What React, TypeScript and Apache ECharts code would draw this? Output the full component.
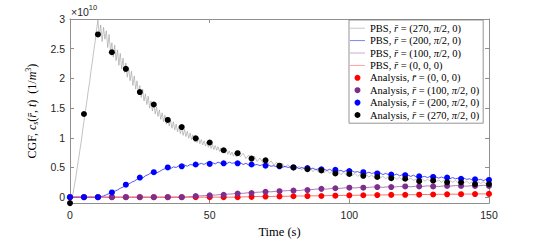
import React, { useEffect, useRef } from "react";
import * as echarts from "echarts";

// PBS r=(270,π/2,0): 0.5 s sampling from 0 to 60 s
const pbs270Early = [
  0, 0.01, 0.04, 0.18, 0.31, 0.47, 0.62, 0.78, 0.93, 1.11,
  1.28, 1.45, 1.60, 1.78, 1.93, 2.12, 2.28, 2.46, 2.62, 2.82,
  2.98, 2.70, 2.90, 2.62, 2.86, 2.66, 2.80, 2.52, 2.74, 2.46,
  2.60, 2.36, 2.56, 2.30, 2.48, 2.22, 2.42, 2.16, 2.34, 2.10,
  2.26, 2.02, 2.18, 1.96, 2.12, 1.88, 2.04, 1.82, 1.96, 1.74,
  1.88, 1.68, 1.82, 1.62, 1.74, 1.56, 1.70, 1.50, 1.62, 1.45,
  1.58, 1.40, 1.52, 1.36, 1.47, 1.31, 1.42, 1.27, 1.38, 1.23,
  1.34, 1.20, 1.30, 1.16, 1.27, 1.13, 1.23, 1.10, 1.20, 1.07,
  1.17, 1.04, 1.14, 1.02, 1.11, 0.99, 1.08, 0.97, 1.05, 0.94,
  1.02, 0.92, 1.00, 0.90, 0.97, 0.88, 0.95, 0.86, 0.93, 0.84,
  0.91, 0.82, 0.89, 0.80, 0.87, 0.79, 0.85, 0.77, 0.83, 0.75,
  0.81, 0.74, 0.80, 0.72, 0.78, 0.71, 0.76, 0.69, 0.75, 0.68,
  0.73,
];
// PBS r=(270,π/2,0): 1 s sampling from 61 to 150 s
const pbs270Late = [
  0.68, 0.74, 0.65, 0.71, 0.63, 0.69, 0.60, 0.66, 0.58,
  0.64, 0.56, 0.61, 0.54, 0.59, 0.52, 0.57, 0.50, 0.55, 0.49,
  0.54, 0.47, 0.52, 0.46, 0.51, 0.45, 0.49, 0.43, 0.48, 0.42,
  0.47, 0.41, 0.45, 0.40, 0.44, 0.39, 0.43, 0.38, 0.42, 0.37,
  0.41, 0.36, 0.40, 0.35, 0.39, 0.34, 0.38, 0.34, 0.37, 0.33,
  0.36, 0.32, 0.35, 0.31, 0.35, 0.31, 0.34, 0.30, 0.33, 0.29,
  0.33, 0.29, 0.32, 0.28, 0.31, 0.27, 0.31, 0.27, 0.30, 0.27,
  0.30, 0.26, 0.29, 0.25, 0.29, 0.25, 0.28, 0.25, 0.28, 0.24,
  0.27, 0.24, 0.27, 0.23, 0.26, 0.23, 0.26, 0.23, 0.26, 0.22,
  0.25,
];
// PBS r=(200,π/2,0): 1 s sampling
const pbs200 = [
  0, 0, 0, 0, 0, 0, 0, 0, 0, 0,
  0, 0.01, 0.02, 0.04, 0.06, 0.08, 0.10, 0.12, 0.15, 0.17,
  0.20, 0.22, 0.25, 0.27, 0.30, 0.33, 0.32, 0.36, 0.38, 0.41,
  0.43, 0.41, 0.43, 0.46, 0.48, 0.50, 0.48, 0.51, 0.50, 0.53,
  0.52, 0.54, 0.52, 0.55, 0.54, 0.56, 0.55, 0.57, 0.55, 0.58,
  0.56, 0.58, 0.56, 0.59, 0.57, 0.58, 0.56, 0.59, 0.57, 0.58,
  0.56, 0.58, 0.55, 0.57, 0.54, 0.56, 0.54, 0.55, 0.53, 0.55,
  0.52, 0.54, 0.52, 0.53, 0.51, 0.53, 0.50, 0.52, 0.50, 0.51,
  0.49, 0.51, 0.48, 0.50, 0.48, 0.49, 0.47, 0.49, 0.46, 0.48,
  0.46, 0.47, 0.45, 0.47, 0.44, 0.46, 0.44, 0.45, 0.43, 0.45,
  0.42, 0.44, 0.42, 0.43, 0.41, 0.43, 0.40, 0.42, 0.40, 0.41,
  0.39, 0.41, 0.38, 0.40, 0.38, 0.39, 0.37, 0.39, 0.36, 0.38,
  0.36, 0.37, 0.35, 0.37, 0.34, 0.36, 0.34, 0.35, 0.33, 0.35,
  0.33, 0.34, 0.32, 0.34, 0.32, 0.33, 0.31, 0.33, 0.31, 0.32,
  0.30, 0.32, 0.30, 0.31, 0.29, 0.31, 0.29, 0.30, 0.28, 0.30,
  0.29,
];
// PBS r=(100,π/2,0) and r=(0,0,0): 2 s sampling
const pbs100 = [
  0, 0, 0, 0, 0, 0, 0, 0, 0, 0, 0, 0, 0, 0, 0, 0, 0, 0, 0, 0, 0,
  0.005, 0.01, 0.02, 0.025, 0.035, 0.035, 0.045, 0.05, 0.055, 0.065,
  0.065, 0.075, 0.08, 0.085, 0.095, 0.09, 0.10, 0.105, 0.11, 0.115,
  0.11, 0.125, 0.125, 0.135, 0.14, 0.135, 0.15, 0.145, 0.155, 0.16,
  0.155, 0.165, 0.16, 0.17, 0.175, 0.165, 0.175, 0.17, 0.18, 0.18,
  0.175, 0.185, 0.18, 0.19, 0.185, 0.18, 0.19, 0.185, 0.195, 0.19,
  0.185, 0.195, 0.19, 0.2, 0.195,
];
const pbs0 = [
  0, 0, 0, 0, 0, 0, 0, 0, 0, 0, 0, 0, 0, 0, 0, 0, 0, 0, 0, 0, 0,
  0, 0, 0, 0, 0, 0, 0, 0, 0, 0,
  0.005, 0.005, 0.01, 0.01, 0.01, 0.012, 0.015, 0.015, 0.015, 0.018,
  0.02, 0.02, 0.022, 0.022, 0.025,
  0.025, 0.028, 0.028, 0.03, 0.03,
  0.032, 0.032, 0.035, 0.035, 0.035,
  0.038, 0.038, 0.04, 0.04, 0.04,
  0.042, 0.042, 0.045, 0.045, 0.045,
  0.048, 0.048, 0.05, 0.05, 0.05,
  0.052, 0.052, 0.055, 0.055, 0.055,
];
// Analysis points (5 s sampling)
const an270 = [-0.1, 1.40, 2.74, 2.44, 2.16, 1.77, 1.56, 1.30, 1.18, 0.99, 0.92, 0.79, 0.74, 0.65, 0.62, 0.53, 0.50, 0.47, 0.45, 0.40, 0.39, 0.36, 0.34, 0.32, 0.31, 0.27, 0.28, 0.25, 0.25, 0.22, 0.22];
const an200 = [0, 0, 0, 0.08, 0.21, 0.33, 0.42, 0.50, 0.52, 0.55, 0.56, 0.57, 0.57, 0.55, 0.53, 0.52, 0.50, 0.49, 0.47, 0.46, 0.44, 0.42, 0.40, 0.38, 0.37, 0.35, 0.34, 0.33, 0.31, 0.30, 0.29];
const an100 = [0, 0, 0, 0, 0, 0, 0, 0, 0, 0.02, 0.03, 0.04, 0.06, 0.07, 0.09, 0.10, 0.11, 0.12, 0.14, 0.15, 0.16, 0.16, 0.17, 0.17, 0.18, 0.18, 0.18, 0.19, 0.19, 0.19, 0.19];
const an0 = [0, 0, 0, 0, 0, 0, 0, 0, 0, 0, 0, 0, 0, 0.005, 0.01, 0.012, 0.015, 0.018, 0.02, 0.025, 0.03, 0.032, 0.035, 0.038, 0.04, 0.042, 0.045, 0.048, 0.05, 0.052, 0.055];

const yTicks = [0, 0.5, 1, 1.5, 2, 2.5, 3];

const legendLabels: Record<string, [string, string]> = {
  p270: ["PBS", "270"],
  p200: ["PBS", "200"],
  p100: ["PBS", "100"],
  p0: ["PBS", "0"],
  a0: ["Analysis", "0"],
  a100: ["Analysis", "100"],
  a200: ["Analysis", "200"],
  a270: ["Analysis", "270"],
};

const pairs = (vals: number[], step: number, start = 0) => vals.map((v, i) => [start + i * step, v]);

const SERIF = "'Liberation Serif', 'DejaVu Serif', serif";
const SANS = "'Liberation Sans', Arial, sans-serif";
const AX = "#8f8f8f";

function legendText(key: string) {
  const [kind, r] = legendLabels[key];
  const tail = r === "0" ? "{n|(0, 0, 0)}" : `{n|(${r}, }{i|π}{n|/2, 0)}`;
  return `{n|${kind}, }{i|r̄}{n| = }${tail}`;
}

const LINE_ICON = "path://M0,0 L16,0 L16,1 L0,1 Z";

export default function App() {
  const ref = useRef<HTMLDivElement>(null);
  useEffect(() => {
    if (!ref.current) return;
    const chart = echarts.init(ref.current, undefined, { renderer: "svg" });
    const lineSeries = (key: string, data: number[][], color: string, width: number) => ({
      type: "line",
      name: key,
      data,
      symbol: "none",
      showSymbol: false,
      lineStyle: { color, width },
      itemStyle: { color },
      z: 2,
    });
    const scatterSeries = (key: string, data: number[][], color: string) => ({
      type: "scatter",
      name: key,
      data,
      symbol: "circle",
      symbolSize: 6,
      itemStyle: { color, opacity: 1 },
      z: 3,
    });
    const axisCommon = {
      axisLine: { show: true, onZero: false, lineStyle: { color: AX, width: 1 } },
      axisTick: { show: true, inside: true, length: 4, lineStyle: { color: AX, width: 1 } },
      splitLine: { show: false },
    };
    const lineLegend = (name: string, color: string) => ({
      name,
      icon: LINE_ICON,
      itemStyle: { color, borderWidth: 0 },
    });
    chart.setOption({
      animation: false,
      backgroundColor: "#fff",
      grid: { left: 70, right: 51, top: 19, bottom: 34, containLabel: false },
      xAxis: [
        {
          type: "value",
          min: 0,
          max: 150,
          interval: 50,
          ...axisCommon,
          axisLabel: { color: "#262626", fontFamily: SANS, fontSize: 10.5, margin: 6 },
          name: "Time (s)",
          nameLocation: "middle",
          nameGap: 19,
          nameTextStyle: { color: "#000", fontFamily: SERIF, fontSize: 12.5 },
        },
        {
          type: "value",
          position: "top",
          min: 0,
          max: 150,
          interval: 50,
          ...axisCommon,
          axisLabel: { show: false },
        },
      ],
      yAxis: [
        {
          type: "value",
          min: -0.1,
          max: 3,
          ...axisCommon,
          axisTick: { ...axisCommon.axisTick, customValues: yTicks },
          axisLabel: { color: "#262626", fontFamily: SANS, fontSize: 10.5, margin: 5, customValues: yTicks },
          name: "{n|CGF, }{i|c}{sb|s}{n|(}{i|r̄}{n|, }{i|t}{n|)  (1/}{i|m}{sp|3}{n|)}",
          nameLocation: "middle",
          nameGap: 25,
          nameRotate: 90,
          nameTextStyle: {
            rich: {
              n: { fontFamily: SERIF, fontSize: 12, color: "#000", lineHeight: 15 },
              i: { fontFamily: SERIF, fontSize: 12, fontStyle: "italic", color: "#000", lineHeight: 15 },
              sb: { fontFamily: SERIF, fontSize: 8, fontStyle: "italic", color: "#000", verticalAlign: "bottom", lineHeight: 15 },
              sp: { fontFamily: SERIF, fontSize: 8, color: "#000", verticalAlign: "top", lineHeight: 15 },
            },
          },
        },
        {
          type: "value",
          position: "right",
          min: -0.1,
          max: 3,
          ...axisCommon,
          axisTick: { ...axisCommon.axisTick, customValues: yTicks },
          axisLabel: { show: false, customValues: yTicks },
        },
      ],
      legend: {
        show: true,
        orient: "vertical",
        left: 349,
        top: 20,
        padding: [2, 4, 2, 1],
        itemWidth: 15,
        itemHeight: 6,
        itemGap: 0,
        backgroundColor: "#fff",
        borderColor: "#7a7a7a",
        borderWidth: 0.8,
        borderRadius: 0,
        data: [
          lineLegend("p270", "#c4c4c4"),
          lineLegend("p200", "#7a7aff"),
          lineLegend("p100", "#c9a6d2"),
          lineLegend("p0", "#ff9a9a"),
          "a0",
          "a100",
          "a200",
          "a270",
        ],
        formatter: (name: string) => legendText(name),
        textStyle: {
          lineHeight: 12.4,
          rich: {
            n: { fontFamily: SERIF, fontSize: 10.5, color: "#000", lineHeight: 12.4 },
            i: { fontFamily: SERIF, fontSize: 10.5, fontStyle: "italic", color: "#000", lineHeight: 12.4 },
          },
        },
      },
      graphic: [
        {
          type: "text",
          left: 71,
          top: 3,
          style: {
            text: "{a|×10}{b|10}",
            rich: {
              a: { fontFamily: SANS, fontSize: 10.5, fill: "#262626", verticalAlign: "bottom", lineHeight: 14 },
              b: { fontFamily: SANS, fontSize: 7.5, fill: "#262626", verticalAlign: "top", lineHeight: 14 },
            },
          },
        },
      ],
      series: [
        lineSeries("p270", [...pairs(pbs270Early, 0.5), ...pairs(pbs270Late, 1, 61)], "#9a9a9a", 0.6),
        lineSeries("p100", pairs(pbs100, 2), "#9b5aa8", 0.8),
        lineSeries("p200", pairs(pbs200, 1), "#2a2aff", 0.8),
        lineSeries("p0", pairs(pbs0, 2), "#ff4a4a", 0.8),
        scatterSeries("a0", pairs(an0, 5), "#ff0000"),
        scatterSeries("a100", pairs(an100, 5), "#7e2f8e"),
        scatterSeries("a200", pairs(an200, 5), "#0000ff"),
        scatterSeries("a270", pairs(an270, 5), "#000000"),
      ],
    });
    return () => chart.dispose();
  }, []);
  return <div ref={ref} style={{ width: 540, height: 243, position: "absolute", left: 0, top: 0 }} />;
}
